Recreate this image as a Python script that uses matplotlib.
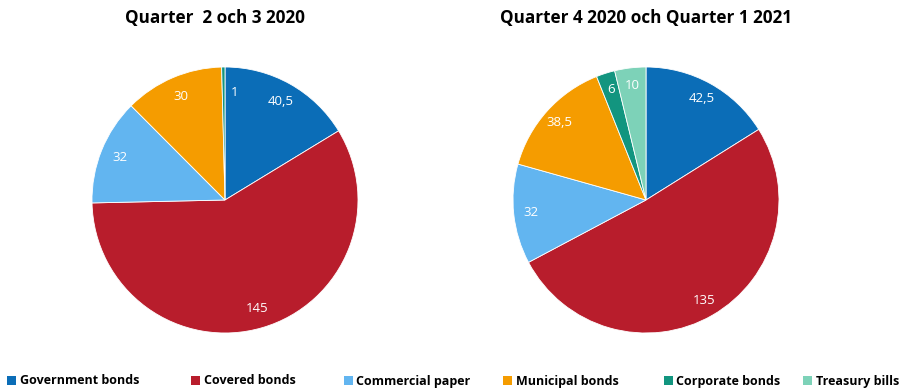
import matplotlib
matplotlib.use("Agg")
import matplotlib.pyplot as plt
from matplotlib.patches import Patch
import numpy as np

plt.rcParams['font.family'] = ['Open Sans', 'DejaVu Sans']

categories = ["Government bonds", "Covered bonds", "Commercial paper",
              "Municipal bonds", "Corporate bonds", "Treasury bills"]
colors = ["#0B6DB7", "#B81D2C", "#62B5F0", "#F59C00", "#12957F", "#7DD2B8"]

title_left = "Quarter  2 och 3 2020"
title_right = "Quarter 4 2020 och Quarter 1 2021"
values_left = [40.5, 145, 32, 30, 1]        # no treasury bills this period
values_right = [42.5, 135, 32, 38.5, 6, 10]


def fmt(v):
    return ("%g" % v).replace(".", ",")


def draw_pie(ax, values, label_dist):
    wedges, _ = ax.pie(values, colors=colors[:len(values)], startangle=90,
                       counterclock=False, radius=1,
                       wedgeprops=dict(linewidth=0.6, edgecolor="white"))
    texts = []
    for w, v in zip(wedges, values):
        ang = np.deg2rad((w.theta1 + w.theta2) / 2)
        t = ax.text(label_dist * np.cos(ang), label_dist * np.sin(ang), fmt(v),
                    ha="center", va="center", color="white", fontsize=9.5)
        texts.append(t)
    ax.set_xlim(-1, 1)
    ax.set_ylim(-1, 1)
    return texts


fig = plt.figure(figsize=(9.01, 3.89), dpi=100)

W, H = 901, 389
r = 133
ax1 = fig.add_axes([(225 - r) / W, (H - 200 - r) / H, 2 * r / W, 2 * r / H])
t1 = draw_pie(ax1, values_left, 0.85)
# the tiny corporate slice gets its label nudged into the neighbouring wedge
x, y = t1[4].get_position()
t1[4].set_position((x + 0.08, y - 0.04))

ax2 = fig.add_axes([(646 - r) / W, (H - 200 - r) / H, 2 * r / W, 2 * r / H])
draw_pie(ax2, values_right, 0.87)

fig.text(215 / W, 1 - 18 / H, title_left, ha="center", va="center",
         fontsize=12.3, fontweight="bold")
fig.text(646 / W, 1 - 18 / H, title_right, ha="center", va="center",
         fontsize=12.3, fontweight="bold")

# legend entries spread along the bottom edge, one small legend each
legend_x = [7, 191, 344, 503, 664, 803]
for c, name, lx in zip(colors, categories, legend_x):
    leg = fig.legend([Patch(facecolor=c, edgecolor="none")], [name],
                     loc="center left", bbox_to_anchor=(lx / W, 1 - 381 / H),
                     frameon=False, prop=dict(size=9.0, weight="bold"),
                     handlelength=0.7, handleheight=0.7, handletextpad=0.3,
                     borderaxespad=0, borderpad=0)

fig.savefig("out.png", dpi=100)
